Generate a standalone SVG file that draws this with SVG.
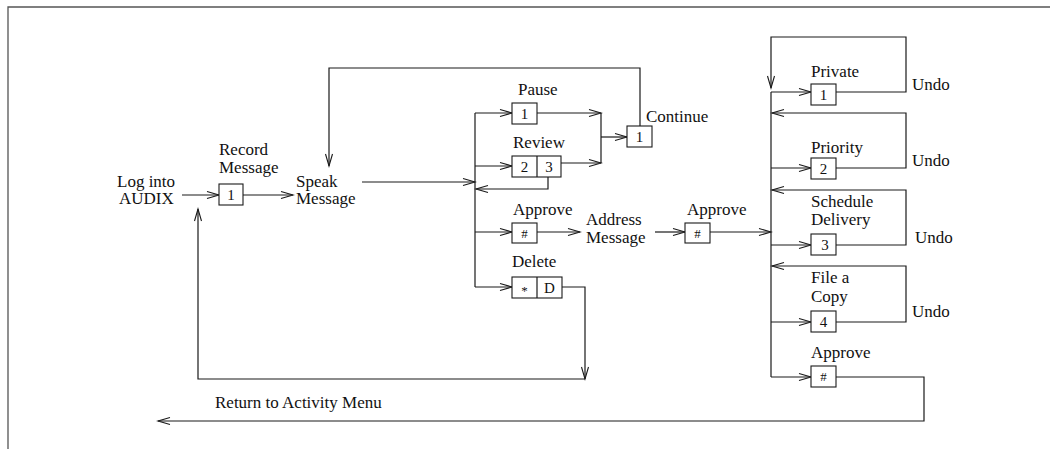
<svg xmlns="http://www.w3.org/2000/svg" width="1050" height="449" viewBox="0 0 1050 449">
<defs>
<marker id="ah" markerUnits="userSpaceOnUse" markerWidth="16" markerHeight="10" viewBox="-14 -5 16 10" refX="0" refY="0" orient="auto">
<path d="M-12,-3.5 L0,0 L-12,3.5" fill="none" stroke="#1a1a1a" stroke-width="1.1"/>
</marker>
</defs>
<style>
text{font-family:"Liberation Serif","Times New Roman",serif;font-size:17px;fill:#111}
.k{font-size:15px;text-anchor:middle}
.box{fill:#fff;stroke:#1a1a1a;stroke-width:1.1}
.c{fill:none;stroke:#1a1a1a;stroke-width:1.2}
.a{marker-end:url(#ah)}
.frame{fill:none;stroke:#555;stroke-width:1.3}
</style>
<rect width="1050" height="449" fill="#fff"/>
<path class="frame" d="M8,449 V7 H1050"/>

<g id="connectors">
<path class="c a" d="M182,195 H219"/>
<path class="c a" d="M243,195 H293"/>
<path class="c a" d="M362,182 H475"/>
<path class="c" d="M475,113 V287"/>
<path class="c a" d="M475,113 H512"/>
<path class="c a" d="M475,166 H512"/>
<path class="c a" d="M475,232 H512"/>
<path class="c a" d="M475,287 H512"/>
<path class="c a" d="M537,113 H601"/>
<path class="c a" d="M561,163 H601"/>
<path class="c" d="M601,113 V163"/>
<path class="c a" d="M601,137 H627"/>
<path class="c a" d="M640,126 V68 H329 V166"/>
<path class="c a" d="M548,177 V189 H476"/>
<path class="c a" d="M537,232 H580"/>
<path class="c a" d="M655,232 H685"/>
<path class="c a" d="M710,232 H771"/>
<path class="c a" d="M562,287 H585 V379"/>
<path class="c a" d="M585,379 H198 V209"/>
<path class="c" d="M771,92 V377"/>
<path class="c a" d="M771,92 H811"/>
<path class="c a" d="M836,92 H906 V37 H771 V88"/>
<path class="c a" d="M771,168 H811"/>
<path class="c a" d="M836,168 H906 V113 H772"/>
<path class="c a" d="M771,245 H811"/>
<path class="c a" d="M836,245 H906 V190 H772"/>
<path class="c a" d="M771,322 H811"/>
<path class="c a" d="M836,322 H906 V266 H772"/>
<path class="c a" d="M771,377 H811"/>
<path class="c a" d="M836,377 H924 V421 H158"/>
</g>

<g id="login"><text x="117" y="187">Log into</text><text x="119" y="204">AUDIX</text></g>
<g id="record"><text x="219" y="155">Record</text><text x="219" y="173">Message</text>
<rect class="box" x="219" y="184" width="24" height="21"/><text class="k" x="231" y="200">1</text></g>
<g id="speak"><text x="296" y="187">Speak</text><text x="296" y="204">Message</text></g>
<g id="pause"><text x="518" y="95">Pause</text>
<rect class="box" x="512" y="103" width="25" height="21"/><text class="k" x="524.5" y="119">1</text></g>
<g id="review"><text x="513" y="148">Review</text>
<rect class="box" x="512" y="156" width="49" height="21"/><path class="c" d="M537,156 V177"/>
<text class="k" x="524.5" y="172">2</text><text class="k" x="549" y="172">3</text></g>
<g id="continue"><text x="646" y="122">Continue</text>
<rect class="box" x="627" y="126" width="25" height="21"/><text class="k" x="639.5" y="142">1</text></g>
<g id="approve1"><text x="513" y="215">Approve</text>
<rect class="box" x="512" y="223" width="25" height="20"/><text class="k" x="524.5" y="238" style="font-size:13px">#</text></g>
<g id="address"><text x="586" y="225">Address</text><text x="586" y="243">Message</text></g>
<g id="approve2"><text x="687" y="215">Approve</text>
<rect class="box" x="685" y="223" width="25" height="20"/><text class="k" x="697.5" y="238" style="font-size:13px">#</text></g>
<g id="delete"><text x="512" y="267">Delete</text>
<rect class="box" x="512" y="277" width="50" height="21"/><path class="c" d="M537,277 V298"/>
<text class="k" x="524.5" y="295" style="font-size:13px">*</text><text class="k" x="549.5" y="293">D</text></g>
<g id="private"><text x="811" y="77">Private</text>
<rect class="box" x="811" y="84" width="25" height="21"/><text class="k" x="823.5" y="100">1</text><text x="912" y="90">Undo</text></g>
<g id="priority"><text x="811" y="153">Priority</text>
<rect class="box" x="811" y="158" width="25" height="21"/><text class="k" x="823.5" y="174">2</text><text x="912" y="166">Undo</text></g>
<g id="schedule"><text x="811" y="207">Schedule</text><text x="811" y="225">Delivery</text>
<rect class="box" x="811" y="234" width="25" height="21"/><text class="k" x="825" y="250">3</text><text x="915" y="243">Undo</text></g>
<g id="filecopy"><text x="811" y="283">File a</text><text x="811" y="302">Copy</text>
<rect class="box" x="811" y="311" width="25" height="21"/><text class="k" x="823.5" y="327">4</text><text x="912" y="317">Undo</text></g>
<g id="approve3"><text x="811" y="358">Approve</text>
<rect class="box" x="811" y="366" width="25" height="21"/><text class="k" x="823.5" y="381" style="font-size:13px">#</text></g>
<g id="return"><text x="215" y="408">Return to Activity Menu</text></g>
</svg>
